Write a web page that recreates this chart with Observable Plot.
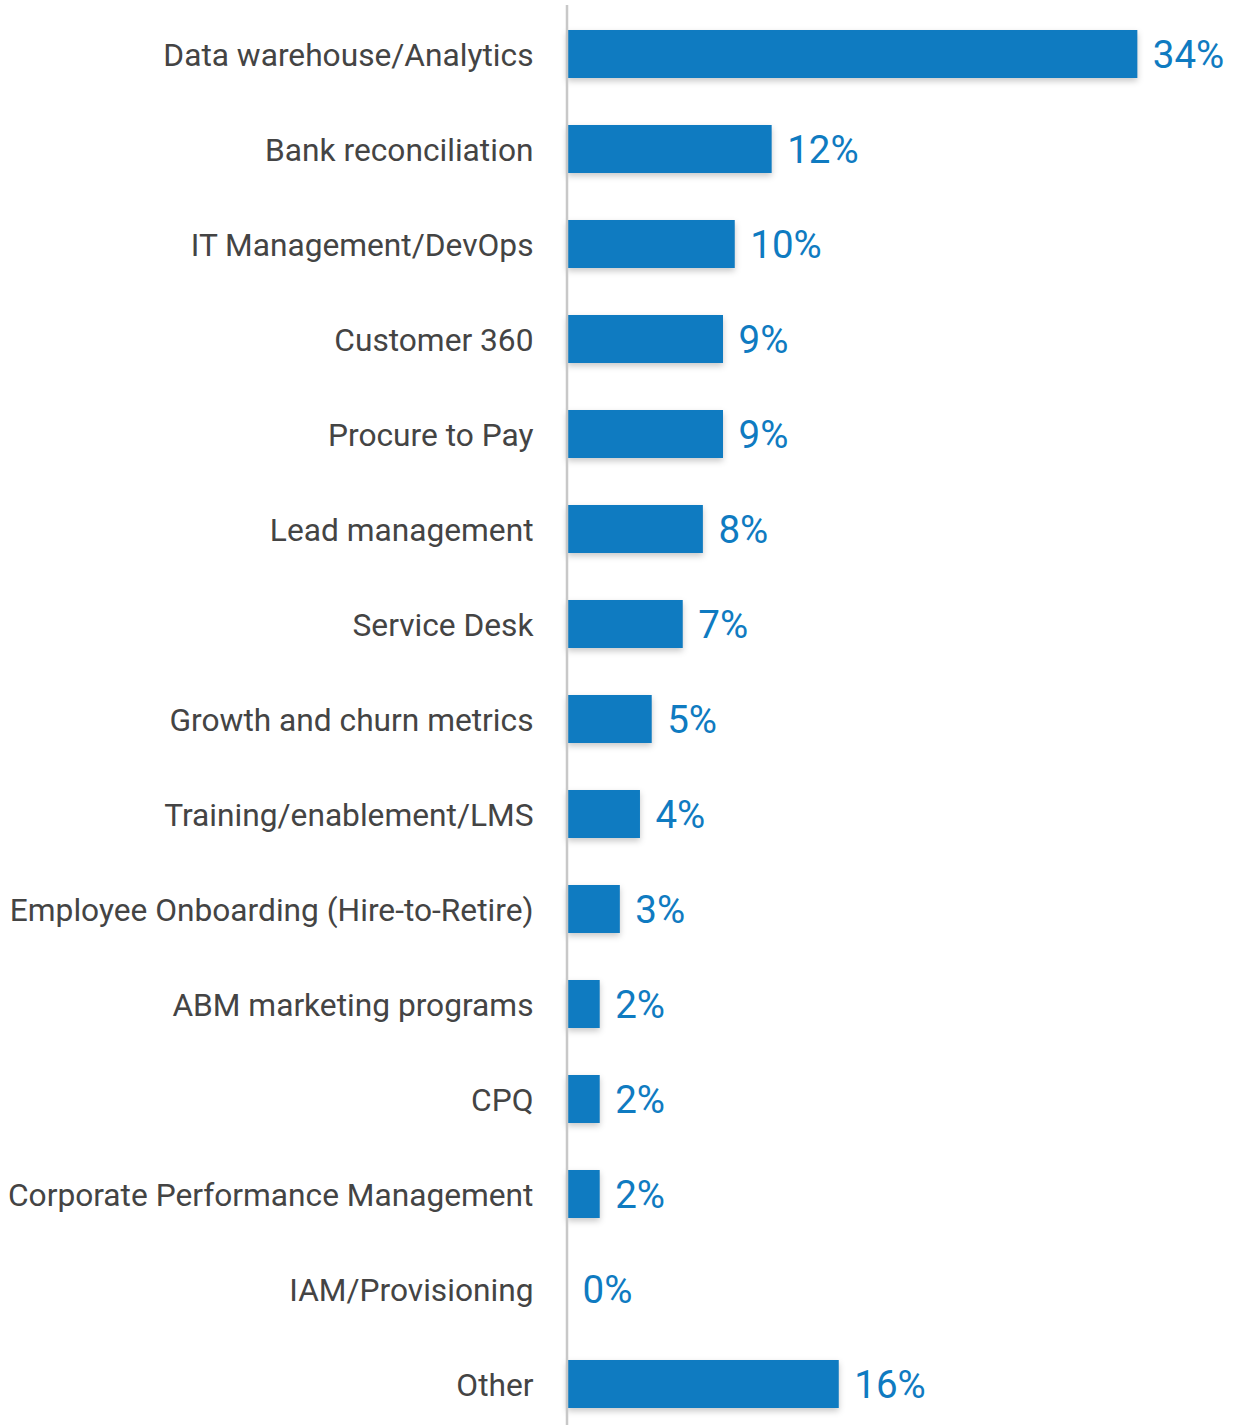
<!DOCTYPE html>
<html>
<head>
<meta charset="utf-8">
<script src="https://cdn.jsdelivr.net/npm/d3@7"></script>
<script src="https://cdn.jsdelivr.net/npm/@observablehq/plot@0.6"></script>
<style>
  html, body { margin: 0; padding: 0; background: #fff; }
  #chart svg { display: block; }
</style>
</head>
<body>
<div id="chart"></div>
<script>
const categories = [
  "Data warehouse/Analytics",
  "Bank reconciliation",
  "IT Management/DevOps",
  "Customer 360",
  "Procure to Pay",
  "Lead management",
  "Service Desk",
  "Growth and churn metrics",
  "Training/enablement/LMS",
  "Employee Onboarding (Hire-to-Retire)",
  "ABM marketing programs",
  "CPQ",
  "Corporate Performance Management",
  "IAM/Provisioning",
  "Other"
];
const values = [34, 12.2, 10, 9.3, 9.3, 8.1, 6.9, 5.05, 4.35, 3.15, 1.95, 1.95, 1.95, 0, 16.2];
const valueLabels = ["34%", "12%", "10%", "9%", "9%", "8%", "7%", "5%", "4%", "3%", "2%", "2%", "2%", "0%", "16%"];

const data = categories.map((c, i) => ({category: c, value: values[i], label: valueLabels[i]}));

const blue = "#0f7bc1";

const chart = Plot.plot({
  width: 1238,
  height: 1425,
  marginLeft: 567,
  marginRight: 0,
  marginTop: 5,
  marginBottom: 0,
  style: {fontFamily: "Roboto, sans-serif", background: "#fff"},
  x: {domain: [0, 40], axis: null},
  y: {domain: categories, range: [5.4, 1432.6], paddingInner: 0.5, paddingOuter: 0.25, label: null},
  marks: [
    Plot.barX(data, {
      x: "value", y: "category", fill: blue,
      imageFilter: "drop-shadow(0px 3px 3px rgba(0,0,0,0.22))"
    }),
    Plot.ruleX([0], {stroke: "#c8c8c8", strokeWidth: 2.5, dx: -0.5}),
    Plot.axisY({
      tickSize: 0, tickPadding: 34, fontSize: 31.7, fill: "#444444", label: null, dy: 1.5
    }),
    Plot.text(data, {
      x: "value", y: "category", text: "label", dx: 15,
      textAnchor: "start", fontSize: 38.5, fill: blue, dy: 1
    })
  ]
});

document.getElementById("chart").appendChild(chart);
</script>
</body>
</html>
